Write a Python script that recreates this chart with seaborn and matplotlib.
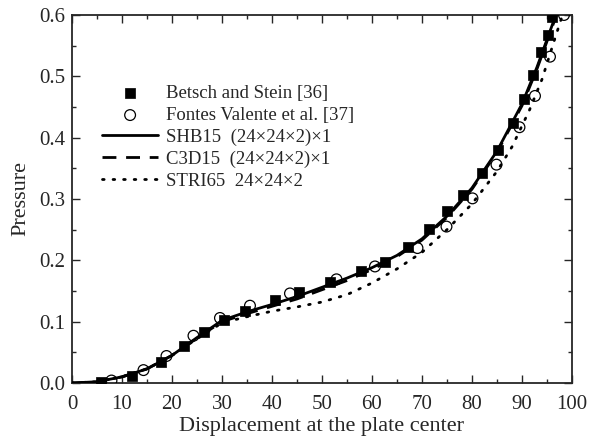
import numpy as np
import pandas as pd
import matplotlib
matplotlib.use("Agg")
import matplotlib.pyplot as plt
from matplotlib.ticker import MultipleLocator
import seaborn as sns

betsch_x = [5.9, 12.1, 17.8, 22.5, 26.4, 30.4, 34.6, 40.6, 45.4, 51.6, 57.9, 62.6,
            67.3, 71.4, 75.1, 78.3, 82.1, 85.3, 88.3, 90.5, 92.3, 93.9, 95.3, 96.1]
betsch_y = [0.002, 0.012, 0.034, 0.061, 0.083, 0.103, 0.118, 0.135, 0.149, 0.165, 0.183, 0.198,
            0.222, 0.251, 0.281, 0.307, 0.343, 0.380, 0.424, 0.463, 0.502, 0.540, 0.568, 0.597]

fontes_x = [7.9, 14.3, 18.9, 24.3, 29.6, 35.6, 43.6, 52.9, 60.6, 69.1, 74.9, 80.1,
            84.9, 89.5, 92.6, 95.6, 98.4]
fontes_y = [0.004, 0.021, 0.044, 0.077, 0.106, 0.126, 0.146, 0.169, 0.190, 0.220, 0.255, 0.301,
            0.356, 0.417, 0.468, 0.532, 0.600]

# ── simulation curves ────────────────────────────────────────────────────────
shb_x = [0, 5, 10, 15, 20, 25, 30, 35, 40, 45, 50, 55, 60, 65, 70, 75, 80, 85, 90, 93, 95, 97]
shb_y = [0.0, 0.002, 0.010, 0.023, 0.045, 0.074, 0.102, 0.116, 0.128, 0.141, 0.156, 0.171,
         0.188, 0.208, 0.235, 0.272, 0.318, 0.378, 0.455, 0.515, 0.560, 0.605]

c3d_x = [0, 5, 10, 15, 20, 25, 30, 35, 40, 45, 50, 55, 60, 65, 70, 75, 80, 85, 90, 93, 95, 97]
c3d_y = [0.0, 0.002, 0.010, 0.023, 0.045, 0.073, 0.100, 0.113, 0.125, 0.137, 0.152, 0.167,
         0.185, 0.206, 0.233, 0.270, 0.316, 0.376, 0.452, 0.512, 0.557, 0.602]

stri_x = [0, 5, 10, 15, 20, 25, 30, 35, 40, 45, 50, 55, 60, 65, 70, 75, 80, 85, 88, 91.5, 94, 96.6, 98.5]
stri_y = [0.0, 0.002, 0.010, 0.023, 0.045, 0.072, 0.098, 0.108, 0.117, 0.124, 0.132, 0.144,
          0.163, 0.186, 0.213, 0.250, 0.292, 0.345, 0.385, 0.445, 0.495, 0.562, 0.610]

# ── plot ─────────────────────────────────────────────────────────────────────
sns.set_theme(style="ticks")
plt.rcParams["font.family"] = ["Liberation Serif", "DejaVu Serif"]

fig = plt.figure(figsize=(5.89, 4.46), dpi=100)
ax = fig.add_axes([0.1222, 0.1413, 0.8489, 0.8251])

sns.scatterplot(x=betsch_x, y=betsch_y, ax=ax, marker="s", s=48, color="black",
                edgecolor="black", linewidth=0.5, label="Betsch and Stein [36]", zorder=3)
sns.scatterplot(x=fontes_x, y=fontes_y, ax=ax, marker="o", s=60, facecolor="none",
                edgecolor="black", linewidth=0.9, label="Fontes Valente et al. [37]", zorder=3)
sns.lineplot(x=shb_x, y=shb_y, ax=ax, color="black", linewidth=2.0,
             label="SHB15  (24×24×2)×1", zorder=4)
sns.lineplot(x=c3d_x, y=c3d_y, ax=ax, color="black", linewidth=2.0,
             label="C3D15  (24×24×2)×1", zorder=4)
ax.lines[-1].set_dashes((5, 3.5))
sns.lineplot(x=stri_x, y=stri_y, ax=ax, color="black", linewidth=2.0,
             label="STRI65  24×24×2", zorder=4)
ax.lines[-1].set_dashes((0.6, 3.2))
ax.lines[-1].set_dash_capstyle("round")

ax.set_xlim(0, 100)
ax.set_ylim(0, 0.6)
ax.xaxis.set_major_locator(MultipleLocator(10))
ax.xaxis.set_minor_locator(MultipleLocator(5))
ax.yaxis.set_major_locator(MultipleLocator(0.1))
ax.yaxis.set_minor_locator(MultipleLocator(0.05))
ax.yaxis.set_major_formatter(plt.FuncFormatter(lambda v, _: f"{v:.1f}"))
ax.tick_params(which="both", direction="in", top=True, right=True, labelsize=15)
ax.tick_params(axis="x", pad=9)
ax.tick_params(axis="y", pad=5)
ax.tick_params(which="major", length=6, width=1.0)
ax.tick_params(which="minor", length=3, width=1.0)
for sp in ax.spines.values():
    sp.set_visible(True)
    sp.set_linewidth(1.3)

ax.set_xlabel("Displacement at the plate center", fontsize=16, labelpad=2)
ax.set_ylabel("Pressure", fontsize=16, labelpad=6)

leg = ax.legend(loc="upper left", bbox_to_anchor=(0.045, 0.83), frameon=False,
                fontsize=13.5, handlelength=3.0, handletextpad=0.4,
                labelspacing=0.25, borderaxespad=0)

fig.savefig("out.png", dpi=100)
